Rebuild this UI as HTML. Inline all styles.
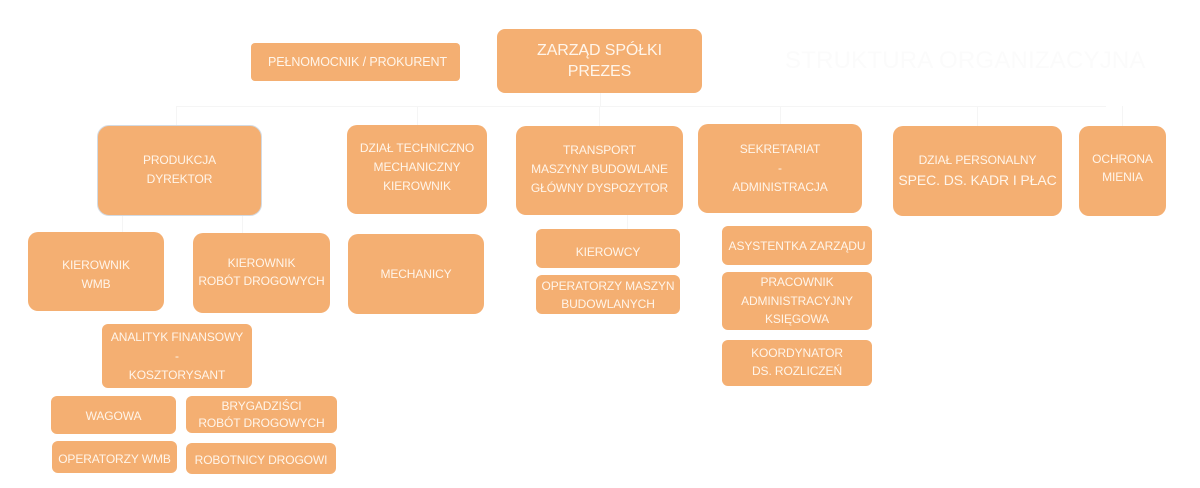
<!DOCTYPE html>
<html>
<head>
<meta charset="utf-8">
<style>
  html, body { margin:0; padding:0; background:#ffffff; }
  body { width:1200px; height:488px; position:relative; overflow:hidden;
         font-family:"Liberation Sans", "DejaVu Sans", sans-serif; }
  .b { position:absolute; background:#F4AF72; color:#FFF5EA; display:flex;
       align-items:center; justify-content:center; text-align:center;
       font-size:12px; line-height:19px; border-radius:6px; box-sizing:border-box;
       white-space:nowrap; letter-spacing:-0.1px; }
  .big { border-radius:10px; }
  .ln { position:absolute; background:#F5F5F5; }
  .title { position:absolute; left:785px; top:47px; font-size:24px; color:#FBFBFB;
           white-space:nowrap; letter-spacing:0.2px; }
</style>
</head>
<body>
  <!-- faint connectors -->
  <div class="ln" style="left:176px;top:106px;width:1px;height:19px;"></div>
  <div class="ln" style="left:176px;top:106px;width:930px;height:1px;"></div>
  <div class="ln" style="left:600px;top:93px;width:1px;height:13px;"></div>
  <div class="ln" style="left:417px;top:106px;width:1px;height:19px;"></div>
  <div class="ln" style="left:599px;top:106px;width:1px;height:20px;"></div>
  <div class="ln" style="left:780px;top:106px;width:1px;height:18px;"></div>
  <div class="ln" style="left:977px;top:106px;width:1px;height:20px;"></div>
  <div class="ln" style="left:1122px;top:106px;width:1px;height:20px;"></div>
  <div class="ln" style="left:122px;top:216px;width:1px;height:16px;"></div>
  <div class="ln" style="left:242px;top:216px;width:1px;height:17px;"></div>
  <div class="ln" style="left:627px;top:215px;width:1px;height:14px;"></div>

  <div class="title">STRUKTURA ORGANIZACYJNA</div>

  <div class="b" style="left:251px;top:43px;width:209px;height:38px;font-size:12.5px;border-radius:4px;padding-left:4px;">PEŁNOMOCNIK / PROKURENT</div>
  <div class="b big" style="left:497px;top:29px;width:205px;height:64px;font-size:16px;line-height:21px;border-radius:8px;">ZARZĄD SPÓŁKI<br>PREZES</div>

  <div class="b big" style="left:97px;top:125px;width:165px;height:91px;border:1.5px solid #D3DAE2;border-radius:12px;padding-bottom:2px;">PRODUKCJA<br>DYREKTOR</div>
  <div class="b big" style="left:347px;top:125px;width:140px;height:89px;padding-bottom:4px;">DZIAŁ TECHNICZNO<br>MECHANICZNY<br>KIEROWNIK</div>
  <div class="b big" style="left:516px;top:126px;width:167px;height:89px;padding-bottom:3px;">TRANSPORT<br>MASZYNY BUDOWLANE<br>GŁÓWNY DYSPOZYTOR</div>
  <div class="b big" style="left:698px;top:124px;width:164px;height:89px;padding-bottom:0px;">SEKRETARIAT<br>-<br>ADMINISTRACJA</div>
  <div class="b big" style="left:893px;top:126px;width:169px;height:90px;line-height:20px;padding-bottom:2px;"><span>DZIAŁ PERSONALNY<br><span style="font-size:14px;">SPEC. DS. KADR I PŁAC</span></span></div>
  <div class="b big" style="left:1079px;top:126px;width:87px;height:90px;line-height:18px;padding-bottom:7px;">OCHRONA<br>MIENIA</div>

  <div class="b big" style="left:28px;top:232px;width:136px;height:79px;padding-top:6px;">KIEROWNIK<br>WMB</div>
  <div class="b big" style="left:193px;top:233px;width:137px;height:80px;line-height:18px;padding-bottom:2px;">KIEROWNIK<br>ROBÓT DROGOWYCH</div>
  <div class="b big" style="left:348px;top:234px;width:136px;height:80px;padding-top:1px;">MECHANICY</div>

  <div class="b" style="left:536px;top:229px;width:144px;height:39px;padding-top:7px;">KIEROWCY</div>
  <div class="b" style="left:536px;top:275px;width:144px;height:39px;line-height:18px;padding-top:1px;">OPERATORZY MASZYN<br>BUDOWLANYCH</div>

  <div class="b" style="left:722px;top:226px;width:150px;height:39px;padding-top:2px;">ASYSTENTKA ZARZĄDU</div>
  <div class="b" style="left:722px;top:272px;width:150px;height:58px;line-height:18.5px;padding-bottom:0px;">PRACOWNIK<br>ADMINISTRACYJNY<br>KSIĘGOWA</div>
  <div class="b" style="left:722px;top:340px;width:150px;height:46px;line-height:18px;padding-bottom:2px;">KOORDYNATOR<br>DS. ROZLICZEŃ</div>

  <div class="b" style="left:102px;top:324px;width:150px;height:64px;padding-top:1px;">ANALITYK FINANSOWY<br>-<br>KOSZTORYSANT</div>
  <div class="b" style="left:51px;top:396px;width:125px;height:38px;padding-top:2px;">WAGOWA</div>
  <div class="b" style="left:186px;top:396px;width:151px;height:37px;line-height:17px;padding-top:1px;">BRYGADZIŚCI<br>ROBÓT DROGOWYCH</div>
  <div class="b" style="left:52px;top:441px;width:125px;height:32px;padding-top:5px;">OPERATORZY WMB</div>
  <div class="b" style="left:186px;top:443px;width:150px;height:31px;padding-top:4px;">ROBOTNICY DROGOWI</div>
</body>
</html>
